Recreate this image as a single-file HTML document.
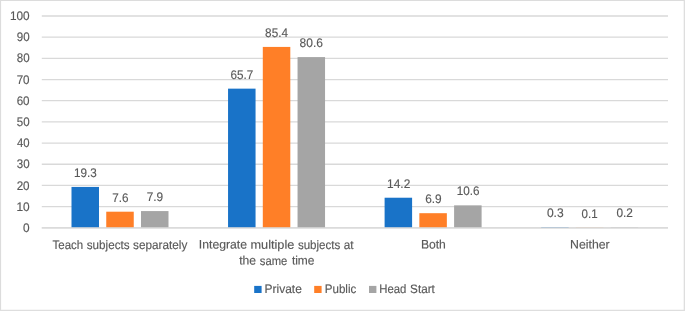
<!DOCTYPE html>
<html><head><meta charset="utf-8"><title>Chart</title>
<style>
html,body{margin:0;padding:0;background:#fff;}
body{width:685px;height:311px;overflow:hidden;}
svg{display:block;}
text{font-family:"Liberation Sans",sans-serif;font-size:12.2px;fill:#595959;text-rendering:geometricPrecision;stroke:#595959;stroke-width:0.15px;}
text.n{font-size:12.5px;}
</style></head><body>
<svg width="685" height="311" viewBox="0 0 685 311">
<rect x="0" y="0" width="685" height="311" fill="#fff"/>
<path d="M0 0.5H685M0.5 0V311" fill="none" stroke="#DCDCDC" stroke-width="1.2"/>
<path d="M0 310.4H685M684.4 0V311" fill="none" stroke="#DEDEDE" stroke-width="1.4"/>
<line x1="41.8" x2="668.0" y1="227.80" y2="227.80" stroke="#D9D9D9" stroke-width="1.3"/>
<line x1="41.8" x2="668.0" y1="206.62" y2="206.62" stroke="#D9D9D9" stroke-width="1.3"/>
<line x1="41.8" x2="668.0" y1="185.44" y2="185.44" stroke="#D9D9D9" stroke-width="1.3"/>
<line x1="41.8" x2="668.0" y1="164.26" y2="164.26" stroke="#D9D9D9" stroke-width="1.3"/>
<line x1="41.8" x2="668.0" y1="143.08" y2="143.08" stroke="#D9D9D9" stroke-width="1.3"/>
<line x1="41.8" x2="668.0" y1="121.90" y2="121.90" stroke="#D9D9D9" stroke-width="1.3"/>
<line x1="41.8" x2="668.0" y1="100.72" y2="100.72" stroke="#D9D9D9" stroke-width="1.3"/>
<line x1="41.8" x2="668.0" y1="79.54" y2="79.54" stroke="#D9D9D9" stroke-width="1.3"/>
<line x1="41.8" x2="668.0" y1="58.36" y2="58.36" stroke="#D9D9D9" stroke-width="1.3"/>
<line x1="41.8" x2="668.0" y1="37.18" y2="37.18" stroke="#D9D9D9" stroke-width="1.3"/>
<line x1="41.8" x2="668.0" y1="16.00" y2="16.00" stroke="#D9D9D9" stroke-width="1.3"/>
<rect x="71.50" y="186.92" width="27.5" height="40.88" fill="#1973C8"/>
<rect x="106.25" y="211.70" width="27.5" height="16.10" fill="#FF7F27"/>
<rect x="141.00" y="211.07" width="27.5" height="16.73" fill="#A5A5A5"/>
<rect x="228.05" y="88.65" width="27.5" height="139.15" fill="#1973C8"/>
<rect x="262.80" y="46.92" width="27.5" height="180.88" fill="#FF7F27"/>
<rect x="297.55" y="57.09" width="27.5" height="170.71" fill="#A5A5A5"/>
<rect x="384.60" y="197.72" width="27.5" height="30.08" fill="#1973C8"/>
<rect x="419.35" y="213.19" width="27.5" height="14.61" fill="#FF7F27"/>
<rect x="454.10" y="205.35" width="27.5" height="22.45" fill="#A5A5A5"/>
<rect x="541.15" y="227.16" width="27.5" height="0.64" fill="#1973C8"/>
<rect x="575.90" y="227.59" width="27.5" height="0.21" fill="#FF7F27"/>
<rect x="610.65" y="227.38" width="27.5" height="0.42" fill="#A5A5A5"/>
<line x1="41.8" x2="668.0" y1="227.80" y2="227.80" stroke="#D9D9D9" stroke-width="1.3"/>
<rect x="254.2" y="285.9" width="7.4" height="7.1" fill="#1973C8"/>
<rect x="314.2" y="285.9" width="7.4" height="7.1" fill="#FF7F27"/>
<rect x="369.0" y="285.9" width="7.4" height="7.1" fill="#A5A5A5"/>
<g transform="matrix(1 0.0005 0 1 0 0)">
<text id="d00" class="n" x="74.05" y="176.89" textLength="22.78" lengthAdjust="spacingAndGlyphs">19.3</text>
<text id="d01" class="n" x="112.15" y="201.65" textLength="16.28" lengthAdjust="spacingAndGlyphs">7.6</text>
<text id="d02" class="n" x="146.63" y="200.99" textLength="16.48" lengthAdjust="spacingAndGlyphs">7.9</text>
<text id="d10" class="n" x="230.48" y="78.53" textLength="22.82" lengthAdjust="spacingAndGlyphs">65.7</text>
<text id="d11" class="n" x="265.10" y="36.79" textLength="22.89" lengthAdjust="spacingAndGlyphs">85.4</text>
<text id="d12" class="n" x="299.56" y="46.94" textLength="23.35" lengthAdjust="spacingAndGlyphs">80.6</text>
<text id="d20" class="n" x="387.12" y="187.53" textLength="23.15" lengthAdjust="spacingAndGlyphs">14.2</text>
<text id="d21" class="n" x="425.20" y="202.97" textLength="16.50" lengthAdjust="spacingAndGlyphs">6.9</text>
<text id="d22" class="n" x="456.63" y="195.12" textLength="22.78" lengthAdjust="spacingAndGlyphs">10.6</text>
<text id="d30" class="n" x="546.91" y="216.89" textLength="16.77" lengthAdjust="spacingAndGlyphs">0.3</text>
<text id="d31" class="n" x="581.55" y="217.3" textLength="16.02" lengthAdjust="spacingAndGlyphs">0.1</text>
<text id="d32" class="n" x="616.44" y="217.07" textLength="16.47" lengthAdjust="spacingAndGlyphs">0.2</text>
<text y="248.57"><tspan id="c0a" x="52.55" textLength="30.68" lengthAdjust="spacingAndGlyphs">Teach</tspan> <tspan id="c0b" x="86.79" textLength="42.77" lengthAdjust="spacingAndGlyphs">subjects</tspan> <tspan id="c0c" x="133.08" textLength="54.28" lengthAdjust="spacingAndGlyphs">separately</tspan></text>
<text y="248.5"><tspan id="c1a" x="198.79" textLength="48.28" lengthAdjust="spacingAndGlyphs">Integrate</tspan> <tspan id="c1b" x="250.45" textLength="43.89" lengthAdjust="spacingAndGlyphs">multiple</tspan> <tspan id="c1c" x="297.88" textLength="42.39" lengthAdjust="spacingAndGlyphs">subjects</tspan> <tspan id="c1d" x="343.81" textLength="9.82" lengthAdjust="spacingAndGlyphs">at</tspan></text>
<text y="264.48"><tspan id="c1e" x="239.17" textLength="16.87" lengthAdjust="spacingAndGlyphs">the</tspan> <tspan id="c1f" x="259.79" textLength="27.46" lengthAdjust="spacingAndGlyphs">same</tspan> <tspan id="c1g" x="291.89" textLength="22.66" lengthAdjust="spacingAndGlyphs">time</tspan></text>
<text id="c2" x="420.92" y="248.39" textLength="24.97" lengthAdjust="spacingAndGlyphs">Both</text>
<text id="c3" x="570.07" y="248.31" textLength="39.64" lengthAdjust="spacingAndGlyphs">Neither</text>
<text id="l0" x="264.59" y="292.87" textLength="37.24" lengthAdjust="spacingAndGlyphs">Private</text>
<text id="l1" x="324.79" y="292.84" textLength="31.47" lengthAdjust="spacingAndGlyphs">Public</text>
<text y="292.81"><tspan id="l2a" x="379.22" textLength="27.13" lengthAdjust="spacingAndGlyphs">Head</tspan> <tspan id="l2b" x="410.11" textLength="24.75" lengthAdjust="spacingAndGlyphs">Start</tspan></text>
<text id="y0" class="n" x="23.02" y="231.89" textLength="6.58" lengthAdjust="spacingAndGlyphs">0</text>
<text id="y1" class="n" x="16.38" y="210.71" textLength="13.22" lengthAdjust="spacingAndGlyphs">10</text>
<text id="y2" class="n" x="16.63" y="189.53" textLength="12.97" lengthAdjust="spacingAndGlyphs">20</text>
<text id="y3" class="n" x="16.77" y="168.35" textLength="12.84" lengthAdjust="spacingAndGlyphs">30</text>
<text id="y4" class="n" x="16.99" y="147.17" textLength="12.59" lengthAdjust="spacingAndGlyphs">40</text>
<text id="y5" class="n" x="16.77" y="125.99" textLength="12.84" lengthAdjust="spacingAndGlyphs">50</text>
<text id="y6" class="n" x="16.63" y="104.81" textLength="12.96" lengthAdjust="spacingAndGlyphs">60</text>
<text id="y7" class="n" x="16.63" y="83.63" textLength="12.96" lengthAdjust="spacingAndGlyphs">70</text>
<text id="y8" class="n" x="16.75" y="62.45" textLength="12.85" lengthAdjust="spacingAndGlyphs">80</text>
<text id="y9" class="n" x="16.75" y="41.27" textLength="12.86" lengthAdjust="spacingAndGlyphs">90</text>
<text id="y10" class="n" x="9.96" y="20.09" textLength="19.68" lengthAdjust="spacingAndGlyphs">100</text>
</g>
</svg></body></html>
